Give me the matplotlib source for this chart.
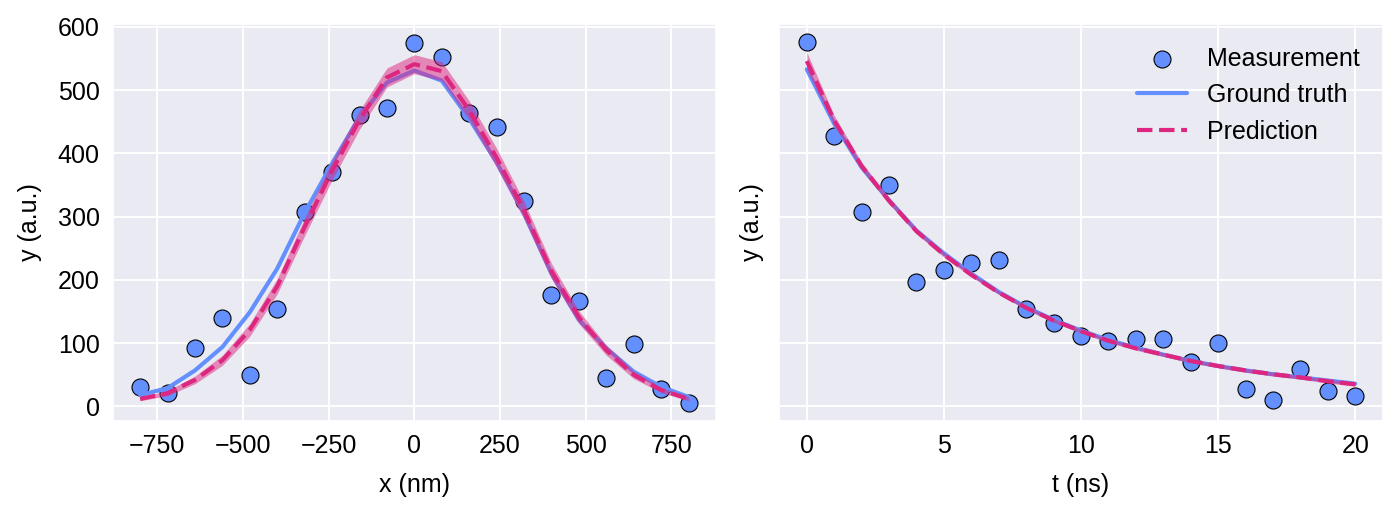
import numpy as np
import matplotlib
matplotlib.use("Agg")
import matplotlib.pyplot as plt
import seaborn as sns

# colours (IBM colour-blind palette)
BLUE = "#648FFF"
PINK = "#DC267F"

# ---- left panel: spatial profile ----
x_nm = [-800, -720, -640, -560, -480, -400, -320, -240, -160, -80, 0,
        80, 160, 240, 320, 400, 480, 560, 640, 720, 800]
meas_x = [31, 22, 92, 140, 50, 154, 307, 370, 460, 471, 575,
          552, 464, 442, 324, 176, 167, 45, 99, 28, 6]
truth_x = [18, 29, 57, 94, 149, 218, 306, 384, 457, 512, 531,
           515, 455, 386, 305, 210, 137, 92, 55, 31, 15]
pred_x = [12, 21, 42, 73, 121, 190, 284, 373, 453, 520, 541,
          530, 468, 393, 310, 214, 141, 89, 50, 26, 12]
band_x = [3, 4, 6, 8, 10, 12, 14, 15, 15, 15, 15,
          15, 15, 15, 14, 12, 10, 8, 6, 4, 3]

# ---- right panel: decay ----
t_ns = [0, 1, 2, 3, 4, 5, 6, 7, 8, 9, 10,
        11, 12, 13, 14, 15, 16, 17, 18, 19, 20]
meas_t = [576, 427, 307, 350, 196, 215, 226, 232, 154, 132, 111,
          103, 107, 106, 71, 101, 28, 10, 60, 25, 17]
truth_t = [533, 447, 378, 326, 278, 242, 210, 181, 157, 137, 120,
           105, 93, 82, 72, 64, 57, 51, 46, 41, 36]
pred_t = [546, 452, 380, 325, 277, 240, 208, 180, 156, 136, 119,
          104, 92, 82, 72, 64, 57, 51, 46, 40, 35]
band_t = [14, 8, 6, 5, 4, 4, 3, 3, 3, 3, 3,
          3, 3, 3, 3, 3, 3, 3, 3, 3, 3]

sns.set_theme(style="darkgrid")
plt.rcParams["font.family"] = ["Liberation Sans", "DejaVu Sans"]
plt.rcParams["font.size"] = 18
plt.rcParams["grid.linewidth"] = 1.4
for key in ["text.color", "axes.labelcolor", "xtick.color", "ytick.color"]:
    plt.rcParams[key] = "black"

fig, (ax1, ax2) = plt.subplots(1, 2, figsize=(14, 5.14), dpi=100, sharey=True)
fig.subplots_adjust(left=0.0805, right=0.9876, bottom=0.1815, top=0.9533, wspace=0.105)


def panel(ax, x, meas, truth, pred, band):
    x = np.array(x)
    pred = np.array(pred)
    band = np.array(band)
    ax.scatter(x, meas, s=150, color=BLUE, edgecolor="black", linewidth=0.8,
               label="Measurement", zorder=2)
    ax.plot(x, truth, color=BLUE, lw=3, label="Ground truth", zorder=3)
    ax.fill_between(x, pred - band, pred + band, color=PINK, alpha=0.5,
                    lw=0, zorder=4)
    ax.plot(x, pred, color=PINK, lw=3, ls="--", label="Prediction", zorder=5)
    ax.tick_params(labelsize=18)


panel(ax1, x_nm, meas_x, truth_x, pred_x, band_x)
panel(ax2, t_ns, meas_t, truth_t, pred_t, band_t)

ax1.set_xlabel("x (nm)", fontsize=18, labelpad=11)
ax1.set_ylabel("y (a.u.)", fontsize=18, labelpad=11)
ax2.set_xlabel("t (ns)", fontsize=18, labelpad=11)
ax2.set_ylabel("y (a.u.)", fontsize=18, labelpad=11)
ax1.set_xticks([-750, -500, -250, 0, 250, 500, 750])
ax2.set_xticks([0, 5, 10, 15, 20])
ax1.set_yticks([0, 100, 200, 300, 400, 500, 600])
ax2.tick_params(labelleft=False)

ax2.legend(loc="upper right", frameon=False, fontsize=18)

fig.savefig("out.png", dpi=100)
